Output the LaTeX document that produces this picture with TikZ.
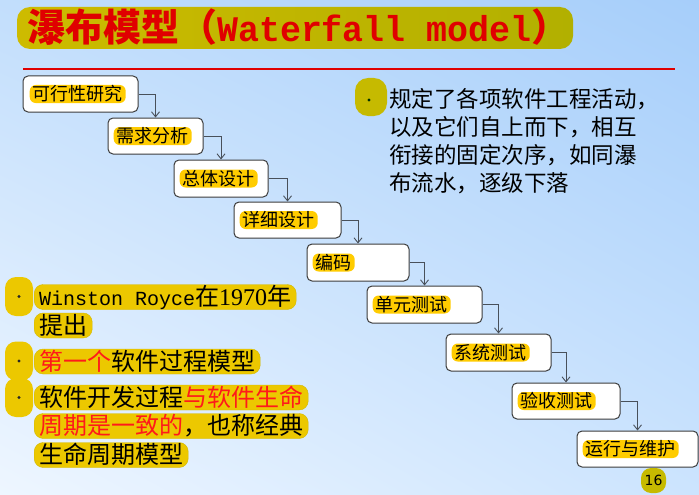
\documentclass[tikz,border=0pt]{standalone}
\usepackage{fontspec}
\usetikzlibrary{arrows.meta,shadings}
\newfontfamily\cjk{Noto Sans CJK SC}
\newfontfamily\monofam{Liberation Mono}
\newfontfamily\seriffam{Liberation Serif}
\newfontfamily\numfam{DejaVu Sans}

\definecolor{bgTL}{HTML}{C2DEFC}
\definecolor{bgTR}{HTML}{A6CEFA}
\definecolor{bgBL}{HTML}{EEF6FF}
\definecolor{bgBR}{HTML}{CCE4FE}
\definecolor{bannerL}{HTML}{CDBB00}
\definecolor{bannerR}{HTML}{B2B000}
\definecolor{titlered}{HTML}{E00000}
\definecolor{gold}{HTML}{ECC800}
\definecolor{goldedge}{HTML}{D2B800}
\definecolor{tagyellow}{HTML}{FFCC00}
\definecolor{olive}{HTML}{C6BA00}
\definecolor{boxedge}{HTML}{3C3C3C}
\definecolor{linkgray}{HTML}{48505A}
\definecolor{textred}{HTML}{FF1A1A}

\tikzset{
  stepbox/.style={draw=boxedge, line width=1pt, fill=white, rounded corners=5pt, inner sep=0pt},
  tag/.style={fill=tagyellow, rounded corners=6pt, inner xsep=3pt, inner ysep=0.5pt,
    text height=15pt, text depth=2pt, anchor=west, font=\cjk\fontsize{18}{20}\selectfont},
  link/.style={draw=linkgray, line width=0.9pt, -{Straight Barb[length=5pt,width=8pt]}},
  bulletblob/.style={fill=gold, rounded corners=11pt, minimum width=28pt, minimum height=39pt, inner sep=0pt},
  hl/.style={fill=gold, draw=goldedge, line width=0.4pt, rounded corners=9pt, inner xsep=5pt, inner ysep=0.5pt,
    text height=20.5pt, text depth=3.5pt, anchor=west, font=\cjk\fontsize{24}{26}\selectfont},
  paraline/.style={anchor=west, inner sep=0pt, text height=18pt, text depth=1pt,
    font=\cjk\fontsize{22.5}{28}\selectfont},
  dotmark/.style={circle, fill=#1, inner sep=0pt, minimum size=3.4pt},
}

\begin{document}
\begin{tikzpicture}[x=1pt,y=-1pt]
  % background
  \shade[upper left=bgTL, upper right=bgTR, lower left=bgBL, lower right=bgBR]
    (0,0) rectangle (699,495);
  \useasboundingbox (0,0) rectangle (699,495);

  % title
  \node[left color=bannerL, right color=bannerR, rounded corners=13pt,
        minimum width=556pt, minimum height=42pt, inner sep=0pt] (banner) at (295,28) {};
  \node[anchor=base west, inner sep=0pt, text=titlered] (title) at (27,42)
    {\cjk\bfseries\fontsize{38}{40}\selectfont 瀑布模型（\scalebox{0.97}[1]{\monofam\bfseries\fontsize{36}{40}\selectfont Waterfall model}）};
  \draw[titlered, line width=2pt] (23,69) -- (675,69);

  % phase boxes
  \node[stepbox, minimum width=115pt, minimum height=36pt] (b1) at (80.5,94) {};
  \node[stepbox, minimum width=95pt,  minimum height=36pt] (b2) at (155.5,136) {};
  \node[stepbox, minimum width=94pt,  minimum height=37pt] (b3) at (221,178.5) {};
  \node[stepbox, minimum width=107pt, minimum height=36pt] (b4) at (287.5,220) {};
  \node[stepbox, minimum width=102pt, minimum height=37pt] (b5) at (358,262.5) {};
  \node[stepbox, minimum width=115pt, minimum height=37pt] (b6) at (424.5,304.5) {};
  \node[stepbox, minimum width=105pt, minimum height=37pt] (b7) at (498.5,352.5) {};
  \node[stepbox, minimum width=108pt, minimum height=36pt] (b8) at (566,401) {};
  \node[stepbox, minimum width=121pt, minimum height=36pt] (b9) at (637.5,449) {};

  \node[tag] (t1) at ([xshift=7pt]b1.west) {可行性研究};
  \node[tag] (t2) at ([xshift=6pt]b2.west) {需求分析};
  \node[tag] (t3) at ([xshift=6pt]b3.west) {总体设计};
  \node[tag] (t4) at ([xshift=6pt]b4.west) {详细设计};
  \node[tag] (t5) at ([xshift=6pt]b5.west) {编码};
  \node[tag] (t6) at ([xshift=6pt]b6.west) {单元测试};
  \node[tag] (t7) at ([xshift=6pt]b7.west) {系统测试};
  \node[tag] (t8) at ([xshift=6pt]b8.west) {验收测试};
  \node[tag] (t9) at ([xshift=6pt]b9.west) {运行与维护};

  \draw[link] (b1.east) -| (b2.north);
  \draw[link] (b2.east) -| (b3.north);
  \draw[link] (b3.east) -| (b4.north);
  \draw[link] (b4.east) -| (b5.north);
  \draw[link] (b5.east) -| (b6.north);
  \draw[link] (b6.east) -| (b7.north);
  \draw[link] (b7.east) -| (b8.north);
  \draw[link] (b8.east) -| (b9.north);

  % right-hand note
  \node[fill=olive, rounded corners=13pt, minimum width=32pt, minimum height=38pt, inner sep=0pt] (rb) at (371,97) {};
  \node[dotmark=black!80!green] (rd) at (369,100) {};
  \node[paraline] (p1) at (389,99)  {规定了各项软件工程活动，};
  \node[paraline] (p2) at (389,127) {以及它们自上而下，相互};
  \node[paraline] (p3) at (389,155) {衔接的固定次序，如同瀑};
  \node[paraline] (p4) at (389,183) {布流水，逐级下落};

  % left-hand bullets
  \node[bulletblob] (lb1) at (19,296.5) {};
  \node[dotmark=black!85] (ld1) at (lb1.center) {};
  \node[hl] (h1) at (34,297) {{\monofam\fontsize{20}{24}\selectfont Winston Royce}在{\seriffam 1970}年};
  \node[hl] (h2) at (34,325.5) {提出};

  \node[bulletblob] (lb2) at (19,361) {};
  \node[dotmark=black!85] (ld2) at (lb2.center) {};
  \node[hl] (h3) at (34,361.5) {\textcolor{textred}{第一个}软件过程模型};

  \node[bulletblob] (lb3) at (19,397.5) {};
  \node[dotmark=black!85] (ld3) at (lb3.center) {};
  \node[hl] (h4) at (34,397.5) {软件开发过程\textcolor{textred}{与软件生命}};
  \node[hl] (h5) at (34,426) {\textcolor{textred}{周期是一致的}，也称经典};
  \node[hl] (h6) at (34,455) {生命周期模型};

  % page number
  \node[fill=olive, rounded corners=10pt, minimum width=25pt, minimum height=25pt, inner sep=0pt,
        font=\numfam\fontsize{14}{16}\selectfont] (pg) at (653.5,480.5) {16};
\end{tikzpicture}
\end{document}
